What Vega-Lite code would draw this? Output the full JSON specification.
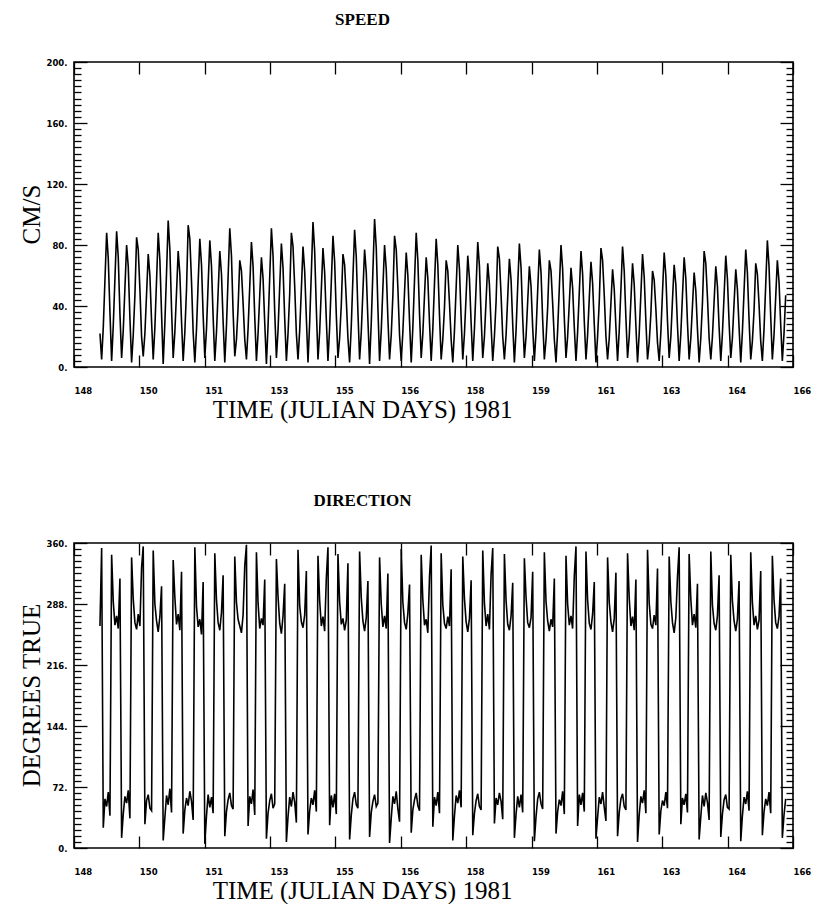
{
"$schema":"https://vega.github.io/schema/vega-lite/v6.json",
"background":"white",
"padding":{"left":18,"top":10,"right":0,"bottom":0},
"config":{"view":{"stroke":"black","strokeWidth":1.6},
 "axis":{"domain":false,"grid":false,"tickColor":"black","tickWidth":1.3,"labelFont":"DejaVu Sans","labelFontSize":8.5,"labelFontWeight":"bold","labelColor":"black","titleFont":"Liberation Serif","titleFontSize":25,"titleFontWeight":"normal","titleColor":"black"}},
"data":{"values":[
{"t":148.650,"s":22,"d":262},{"t":148.692,"s":5,"d":354},{"t":148.733,"s":26,"d":24},{"t":148.775,"s":57,"d":58},{"t":148.817,"s":88,"d":49},{"t":148.858,"s":71,"d":66},{"t":148.900,"s":36,"d":38},{"t":148.942,"s":4,"d":346},{"t":148.983,"s":27,"d":291},{"t":149.025,"s":58,"d":263},{"t":149.067,"s":89,"d":274},{"t":149.108,"s":72,"d":259},{"t":149.150,"s":35,"d":318},{"t":149.192,"s":6,"d":12},{"t":149.233,"s":24,"d":40},{"t":149.275,"s":52,"d":61},{"t":149.317,"s":80,"d":53},{"t":149.358,"s":66,"d":68},{"t":149.400,"s":32,"d":35},{"t":149.442,"s":3,"d":343},{"t":149.483,"s":21,"d":294},{"t":149.525,"s":47,"d":266},{"t":149.567,"s":85,"d":258},{"t":149.608,"s":77,"d":276},
{"t":149.650,"s":51,"d":262},{"t":149.692,"s":20,"d":331},{"t":149.733,"s":7,"d":356},{"t":149.775,"s":22,"d":28},{"t":149.817,"s":48,"d":56},{"t":149.858,"s":74,"d":63},{"t":149.900,"s":60,"d":47},{"t":149.942,"s":30,"d":44},{"t":149.983,"s":5,"d":351},{"t":150.025,"s":26,"d":288},{"t":150.067,"s":57,"d":268},{"t":150.108,"s":88,"d":255},{"t":150.150,"s":70,"d":273},{"t":150.192,"s":35,"d":309},{"t":150.233,"s":2,"d":9},{"t":150.275,"s":29,"d":36},{"t":150.317,"s":62,"d":62},{"t":150.358,"s":96,"d":51},{"t":150.400,"s":77,"d":70},{"t":150.442,"s":38,"d":42},{"t":150.483,"s":6,"d":340},{"t":150.525,"s":23,"d":296},{"t":150.567,"s":49,"d":264},{"t":150.608,"s":76,"d":276},
{"t":150.650,"s":61,"d":257},{"t":150.692,"s":30,"d":326},{"t":150.733,"s":4,"d":17},{"t":150.775,"s":23,"d":45},{"t":150.817,"s":51,"d":59},{"t":150.858,"s":93,"d":50},{"t":150.900,"s":84,"d":67},{"t":150.942,"s":56,"d":55},{"t":150.983,"s":23,"d":33},{"t":151.025,"s":3,"d":355},{"t":151.067,"s":25,"d":285},{"t":151.108,"s":55,"d":261},{"t":151.150,"s":84,"d":270},{"t":151.192,"s":67,"d":252},{"t":151.233,"s":34,"d":314},{"t":151.275,"s":6,"d":5},{"t":151.317,"s":25,"d":38},{"t":151.358,"s":54,"d":63},{"t":151.400,"s":83,"d":48},{"t":151.442,"s":66,"d":60},{"t":151.483,"s":33,"d":41},{"t":151.525,"s":4,"d":348},{"t":151.567,"s":23,"d":293},{"t":151.608,"s":49,"d":266},
{"t":151.650,"s":76,"d":257},{"t":151.692,"s":61,"d":278},{"t":151.733,"s":30,"d":322},{"t":151.775,"s":3,"d":14},{"t":151.817,"s":27,"d":43},{"t":151.858,"s":59,"d":57},{"t":151.900,"s":91,"d":65},{"t":151.942,"s":73,"d":50},{"t":151.983,"s":36,"d":46},{"t":152.025,"s":7,"d":344},{"t":152.067,"s":18,"d":290},{"t":152.108,"s":39,"d":270},{"t":152.150,"s":70,"d":262},{"t":152.192,"s":63,"d":254},{"t":152.233,"s":42,"d":275},{"t":152.275,"s":18,"d":333},{"t":152.317,"s":5,"d":358},{"t":152.358,"s":25,"d":26},{"t":152.400,"s":53,"d":61},{"t":152.442,"s":82,"d":52},{"t":152.483,"s":66,"d":69},{"t":152.525,"s":33,"d":39},{"t":152.567,"s":4,"d":349},{"t":152.608,"s":22,"d":289},
{"t":152.650,"s":47,"d":259},{"t":152.692,"s":72,"d":271},{"t":152.733,"s":58,"d":263},{"t":152.775,"s":29,"d":317},{"t":152.817,"s":2,"d":11},{"t":152.858,"s":27,"d":41},{"t":152.900,"s":59,"d":56},{"t":152.942,"s":91,"d":64},{"t":152.983,"s":73,"d":47},{"t":153.025,"s":36,"d":52},{"t":153.067,"s":6,"d":341},{"t":153.108,"s":24,"d":297},{"t":153.150,"s":53,"d":265},{"t":153.192,"s":81,"d":253},{"t":153.233,"s":65,"d":274},{"t":153.275,"s":32,"d":312},{"t":153.317,"s":4,"d":7},{"t":153.358,"s":22,"d":37},{"t":153.400,"s":48,"d":60},{"t":153.442,"s":88,"d":49},{"t":153.483,"s":79,"d":66},{"t":153.525,"s":53,"d":54},{"t":153.567,"s":22,"d":30},{"t":153.608,"s":5,"d":352},
{"t":153.650,"s":24,"d":286},{"t":153.692,"s":51,"d":267},{"t":153.733,"s":79,"d":260},{"t":153.775,"s":63,"d":275},{"t":153.817,"s":32,"d":327},{"t":153.858,"s":3,"d":16},{"t":153.900,"s":29,"d":44},{"t":153.942,"s":62,"d":59},{"t":153.983,"s":95,"d":51},{"t":154.025,"s":76,"d":68},{"t":154.067,"s":38,"d":43},{"t":154.108,"s":5,"d":345},{"t":154.150,"s":23,"d":292},{"t":154.192,"s":51,"d":262},{"t":154.233,"s":78,"d":273},{"t":154.275,"s":62,"d":256},{"t":154.317,"s":31,"d":319},{"t":154.358,"s":4,"d":355},{"t":154.400,"s":26,"d":27},{"t":154.442,"s":56,"d":62},{"t":154.483,"s":86,"d":48},{"t":154.525,"s":69,"d":64},{"t":154.567,"s":34,"d":40},{"t":154.608,"s":6,"d":347},
{"t":154.650,"s":19,"d":291},{"t":154.692,"s":41,"d":264},{"t":154.733,"s":74,"d":271},{"t":154.775,"s":67,"d":257},{"t":154.817,"s":44,"d":269},{"t":154.858,"s":19,"d":336},{"t":154.900,"s":3,"d":10},{"t":154.942,"s":27,"d":39},{"t":154.983,"s":59,"d":58},{"t":155.025,"s":90,"d":66},{"t":155.067,"s":72,"d":51},{"t":155.108,"s":36,"d":47},{"t":155.150,"s":5,"d":350},{"t":155.192,"s":23,"d":295},{"t":155.233,"s":50,"d":268},{"t":155.275,"s":77,"d":256},{"t":155.317,"s":62,"d":272},{"t":155.358,"s":31,"d":315},{"t":155.400,"s":2,"d":13},{"t":155.442,"s":29,"d":42},{"t":155.483,"s":63,"d":55},{"t":155.525,"s":97,"d":63},{"t":155.567,"s":78,"d":49},{"t":155.608,"s":39,"d":53},
{"t":155.650,"s":4,"d":343},{"t":155.692,"s":24,"d":288},{"t":155.733,"s":52,"d":261},{"t":155.775,"s":80,"d":274},{"t":155.817,"s":64,"d":259},{"t":155.858,"s":32,"d":324},{"t":155.900,"s":5,"d":6},{"t":155.942,"s":21,"d":35},{"t":155.983,"s":47,"d":61},{"t":156.025,"s":86,"d":52},{"t":156.067,"s":77,"d":67},{"t":156.108,"s":52,"d":46},{"t":156.150,"s":21,"d":31},{"t":156.192,"s":4,"d":353},{"t":156.233,"s":23,"d":290},{"t":156.275,"s":49,"d":266},{"t":156.317,"s":75,"d":258},{"t":156.358,"s":60,"d":277},{"t":156.400,"s":30,"d":311},{"t":156.442,"s":3,"d":18},{"t":156.483,"s":26,"d":45},{"t":156.525,"s":57,"d":57},{"t":156.567,"s":88,"d":65},{"t":156.608,"s":70,"d":50},
{"t":156.650,"s":35,"d":44},{"t":156.692,"s":6,"d":346},{"t":156.733,"s":22,"d":293},{"t":156.775,"s":47,"d":263},{"t":156.817,"s":72,"d":270},{"t":156.858,"s":58,"d":254},{"t":156.900,"s":29,"d":320},{"t":156.942,"s":4,"d":357},{"t":156.983,"s":25,"d":25},{"t":157.025,"s":55,"d":60},{"t":157.067,"s":84,"d":50},{"t":157.108,"s":67,"d":66},{"t":157.150,"s":34,"d":41},{"t":157.192,"s":5,"d":348},{"t":157.233,"s":18,"d":287},{"t":157.275,"s":39,"d":265},{"t":157.317,"s":70,"d":259},{"t":157.358,"s":63,"d":273},{"t":157.400,"s":42,"d":262},{"t":157.442,"s":18,"d":329},{"t":157.483,"s":3,"d":9},{"t":157.525,"s":24,"d":38},{"t":157.567,"s":52,"d":62},{"t":157.608,"s":80,"d":53},
{"t":157.650,"s":64,"d":68},{"t":157.692,"s":32,"d":48},{"t":157.733,"s":5,"d":344},{"t":157.775,"s":22,"d":294},{"t":157.817,"s":47,"d":267},{"t":157.858,"s":73,"d":255},{"t":157.900,"s":58,"d":271},{"t":157.942,"s":29,"d":316},{"t":157.983,"s":4,"d":15},{"t":158.025,"s":25,"d":41},{"t":158.067,"s":53,"d":56},{"t":158.108,"s":82,"d":64},{"t":158.150,"s":66,"d":49},{"t":158.192,"s":33,"d":45},{"t":158.233,"s":6,"d":351},{"t":158.275,"s":20,"d":289},{"t":158.317,"s":44,"d":262},{"t":158.358,"s":68,"d":276},{"t":158.400,"s":54,"d":258},{"t":158.442,"s":27,"d":323},{"t":158.483,"s":4,"d":354},{"t":158.525,"s":20,"d":29},{"t":158.567,"s":43,"d":59},{"t":158.608,"s":79,"d":51},
{"t":158.650,"s":71,"d":65},{"t":158.692,"s":47,"d":55},{"t":158.733,"s":20,"d":34},{"t":158.775,"s":5,"d":347},{"t":158.817,"s":21,"d":292},{"t":158.858,"s":46,"d":264},{"t":158.900,"s":71,"d":257},{"t":158.942,"s":57,"d":274},{"t":158.983,"s":28,"d":313},{"t":159.025,"s":3,"d":12},{"t":159.067,"s":24,"d":40},{"t":159.108,"s":53,"d":61},{"t":159.150,"s":81,"d":48},{"t":159.192,"s":65,"d":63},{"t":159.233,"s":32,"d":42},{"t":159.275,"s":6,"d":342},{"t":159.317,"s":20,"d":296},{"t":159.358,"s":43,"d":266},{"t":159.400,"s":66,"d":260},{"t":159.442,"s":53,"d":272},{"t":159.483,"s":26,"d":326},{"t":159.525,"s":4,"d":8},{"t":159.567,"s":23,"d":37},{"t":159.608,"s":50,"d":58},
{"t":159.650,"s":77,"d":66},{"t":159.692,"s":62,"d":52},{"t":159.733,"s":31,"d":46},{"t":159.775,"s":5,"d":349},{"t":159.817,"s":18,"d":291},{"t":159.858,"s":39,"d":268},{"t":159.900,"s":70,"d":256},{"t":159.942,"s":63,"d":270},{"t":159.983,"s":42,"d":261},{"t":160.025,"s":18,"d":318},{"t":160.067,"s":3,"d":17},{"t":160.108,"s":24,"d":43},{"t":160.150,"s":52,"d":57},{"t":160.192,"s":80,"d":50},{"t":160.233,"s":64,"d":67},{"t":160.275,"s":32,"d":40},{"t":160.317,"s":6,"d":345},{"t":160.358,"s":20,"d":288},{"t":160.400,"s":42,"d":263},{"t":160.442,"s":65,"d":274},{"t":160.483,"s":52,"d":259},{"t":160.525,"s":26,"d":321},{"t":160.567,"s":4,"d":356},{"t":160.608,"s":23,"d":26},
{"t":160.650,"s":49,"d":63},{"t":160.692,"s":76,"d":51},{"t":160.733,"s":61,"d":65},{"t":160.775,"s":30,"d":43},{"t":160.817,"s":5,"d":350},{"t":160.858,"s":21,"d":293},{"t":160.900,"s":45,"d":265},{"t":160.942,"s":69,"d":258},{"t":160.983,"s":55,"d":276},{"t":161.025,"s":28,"d":314},{"t":161.067,"s":3,"d":11},{"t":161.108,"s":20,"d":36},{"t":161.150,"s":43,"d":60},{"t":161.192,"s":78,"d":52},{"t":161.233,"s":70,"d":66},{"t":161.275,"s":47,"d":48},{"t":161.317,"s":20,"d":32},{"t":161.358,"s":5,"d":343},{"t":161.400,"s":19,"d":290},{"t":161.442,"s":42,"d":267},{"t":161.483,"s":64,"d":255},{"t":161.525,"s":51,"d":271},{"t":161.567,"s":26,"d":325},{"t":161.608,"s":4,"d":14},
{"t":161.650,"s":24,"d":42},{"t":161.692,"s":51,"d":58},{"t":161.733,"s":79,"d":64},{"t":161.775,"s":63,"d":49},{"t":161.817,"s":32,"d":45},{"t":161.858,"s":6,"d":348},{"t":161.900,"s":20,"d":295},{"t":161.942,"s":44,"d":262},{"t":161.983,"s":68,"d":273},{"t":162.025,"s":54,"d":257},{"t":162.067,"s":27,"d":317},{"t":162.108,"s":3,"d":7},{"t":162.150,"s":22,"d":39},{"t":162.192,"s":48,"d":61},{"t":162.233,"s":74,"d":53},{"t":162.275,"s":59,"d":68},{"t":162.317,"s":30,"d":41},{"t":162.358,"s":5,"d":352},{"t":162.400,"s":16,"d":289},{"t":162.442,"s":35,"d":264},{"t":162.483,"s":63,"d":259},{"t":162.525,"s":57,"d":275},{"t":162.567,"s":38,"d":263},{"t":162.608,"s":16,"d":330},
{"t":162.650,"s":4,"d":16},{"t":162.692,"s":23,"d":44},{"t":162.733,"s":49,"d":56},{"t":162.775,"s":75,"d":50},{"t":162.817,"s":60,"d":66},{"t":162.858,"s":30,"d":47},{"t":162.900,"s":6,"d":344},{"t":162.942,"s":20,"d":291},{"t":162.983,"s":44,"d":266},{"t":163.025,"s":67,"d":254},{"t":163.067,"s":54,"d":272},{"t":163.108,"s":27,"d":320},{"t":163.150,"s":4,"d":355},{"t":163.192,"s":22,"d":28},{"t":163.233,"s":47,"d":59},{"t":163.275,"s":72,"d":51},{"t":163.317,"s":58,"d":64},{"t":163.358,"s":29,"d":42},{"t":163.400,"s":5,"d":347},{"t":163.442,"s":19,"d":294},{"t":163.483,"s":40,"d":263},{"t":163.525,"s":62,"d":276},{"t":163.567,"s":50,"d":260},{"t":163.608,"s":25,"d":312},
{"t":163.650,"s":3,"d":10},{"t":163.692,"s":19,"d":37},{"t":163.733,"s":42,"d":62},{"t":163.775,"s":76,"d":49},{"t":163.817,"s":68,"d":65},{"t":163.858,"s":46,"d":54},{"t":163.900,"s":19,"d":33},{"t":163.942,"s":5,"d":350},{"t":163.983,"s":20,"d":287},{"t":164.025,"s":43,"d":265},{"t":164.067,"s":66,"d":257},{"t":164.108,"s":53,"d":274},{"t":164.150,"s":26,"d":322},{"t":164.192,"s":4,"d":13},{"t":164.233,"s":22,"d":40},{"t":164.275,"s":47,"d":57},{"t":164.317,"s":73,"d":63},{"t":164.358,"s":58,"d":48},{"t":164.400,"s":29,"d":46},{"t":164.442,"s":6,"d":346},{"t":164.483,"s":19,"d":292},{"t":164.525,"s":42,"d":268},{"t":164.567,"s":64,"d":256},{"t":164.608,"s":51,"d":270},
{"t":164.650,"s":26,"d":315},{"t":164.692,"s":3,"d":8},{"t":164.733,"s":23,"d":38},{"t":164.775,"s":50,"d":60},{"t":164.817,"s":77,"d":52},{"t":164.858,"s":62,"d":67},{"t":164.900,"s":31,"d":44},{"t":164.942,"s":5,"d":349},{"t":164.983,"s":17,"d":290},{"t":165.025,"s":37,"d":263},{"t":165.067,"s":68,"d":274},{"t":165.108,"s":61,"d":258},{"t":165.150,"s":41,"d":269},{"t":165.192,"s":17,"d":327},{"t":165.233,"s":4,"d":15},{"t":165.275,"s":25,"d":43},{"t":165.317,"s":54,"d":58},{"t":165.358,"s":83,"d":50},{"t":165.400,"s":66,"d":66},{"t":165.442,"s":33,"d":41},{"t":165.483,"s":5,"d":345},{"t":165.525,"s":21,"d":293},{"t":165.567,"s":46,"d":266},{"t":165.608,"s":70,"d":259},
{"t":165.650,"s":56,"d":273},{"t":165.692,"s":28,"d":318},{"t":165.733,"s":4,"d":12},{"t":165.775,"s":22,"d":39},{"t":165.817,"s":47,"d":58}
]},
"spacing":176,
"bounds":"flush",
"vconcat":[
{"width":719,"height":305,
 "title":{"text":"SPEED","anchor":"middle","dx":-71,"offset":29,"font":"Liberation Serif","fontSize":17,"fontWeight":"bold","color":"black"},
 "layer":[
  {"mark":{"type":"line","color":"black","strokeWidth":1.6},
   "encoding":{
    "x":{"field":"t","type":"quantitative","scale":{"domain":[148,166],"nice":false,"zero":false},
     "axis":{"orient":"bottom","values":[148,149.636,151.273,152.909,154.545,156.182,157.818,159.455,161.091,162.727,164.364,166],"format":".0f","tickSize":-12,"labelPadding":31,"labelAlign":"left","labelBaseline":"top","labelOverlap":false,"labelFlush":false,"title":"TIME (JULIAN DAYS) 1981","titleX":288,"titleY":42,"titleAlign":"center","titleBaseline":"middle"}},
    "y":{"field":"s","type":"quantitative","scale":{"domain":[0,200],"nice":false},
     "axis":{"orient":"left","values":[0,40,80,120,160,200],"labelExpr":"datum.label + '.'","tickSize":-13,"labelPadding":20,"labelOverlap":false,"labelFlush":false,"title":"CM/S","titleX":-43,"titleY":152,"titleAlign":"center","titleBaseline":"middle","titleAngle":270}}}},
  {"mark":{"type":"line","opacity":0},
   "encoding":{
    "x":{"field":"t","type":"quantitative","scale":{"domain":[148,166],"nice":false,"zero":false},
     "axis":{"orient":"top","values":[148,149.636,151.273,152.909,154.545,156.182,157.818,159.455,161.091,162.727,164.364,166],"tickSize":-12,"labels":false,"title":null}},
    "y":{"field":"s","type":"quantitative","scale":{"domain":[0,200],"nice":false},
     "axis":{"orient":"left","values":[4,8,12,16,20,24,28,32,36,44,48,52,56,60,64,68,72,76,84,88,92,96,100,104,108,112,116,124,128,132,136,140,144,148,152,156,164,168,172,176,180,184,188,192,196],"tickSize":-7,"labels":false,"title":null}}}},
  {"mark":{"type":"line","opacity":0},
   "encoding":{
    "x":{"field":"t","type":"quantitative","scale":{"domain":[148,166],"nice":false,"zero":false},"axis":null},
    "y":{"field":"s","type":"quantitative","scale":{"domain":[0,200],"nice":false},
     "axis":{"orient":"right","values":[0,40,80,120,160,200],"tickSize":-13,"labels":false,"title":null}}}},
  {"mark":{"type":"line","opacity":0},
   "encoding":{
    "x":{"field":"t","type":"quantitative","scale":{"domain":[148,166],"nice":false,"zero":false},"axis":null},
    "y":{"field":"s","type":"quantitative","scale":{"domain":[0,200],"nice":false},
     "axis":{"orient":"right","values":[4,8,12,16,20,24,28,32,36,44,48,52,56,60,64,68,72,76,84,88,92,96,100,104,108,112,116,124,128,132,136,140,144,148,152,156,164,168,172,176,180,184,188,192,196],"tickSize":-7,"labels":false,"title":null}}}}
 ],
 "resolve":{"axis":{"x":"independent","y":"independent"}}
},
{"width":719,"height":305,
 "title":{"text":"DIRECTION","anchor":"middle","dx":-71,"offset":29,"font":"Liberation Serif","fontSize":17,"fontWeight":"bold","color":"black"},
 "layer":[
  {"mark":{"type":"line","color":"black","strokeWidth":1.6},
   "encoding":{
    "x":{"field":"t","type":"quantitative","scale":{"domain":[148,166],"nice":false,"zero":false},
     "axis":{"orient":"bottom","values":[148,149.636,151.273,152.909,154.545,156.182,157.818,159.455,161.091,162.727,164.364,166],"format":".0f","tickSize":-12,"labelPadding":31,"labelAlign":"left","labelBaseline":"top","labelOverlap":false,"labelFlush":false,"title":"TIME (JULIAN DAYS) 1981","titleX":288,"titleY":42,"titleAlign":"center","titleBaseline":"middle"}},
    "y":{"field":"d","type":"quantitative","scale":{"domain":[0,360],"nice":false},
     "axis":{"orient":"left","values":[0,72,144,216,288,360],"labelExpr":"datum.label + '.'","tickSize":-13,"labelPadding":20,"labelOverlap":false,"labelFlush":false,"title":"DEGREES TRUE","titleX":-43,"titleY":152,"titleAlign":"center","titleBaseline":"middle","titleAngle":270}}}},
  {"mark":{"type":"line","opacity":0},
   "encoding":{
    "x":{"field":"t","type":"quantitative","scale":{"domain":[148,166],"nice":false,"zero":false},
     "axis":{"orient":"top","values":[148,149.636,151.273,152.909,154.545,156.182,157.818,159.455,161.091,162.727,164.364,166],"tickSize":-12,"labels":false,"title":null}},
    "y":{"field":"d","type":"quantitative","scale":{"domain":[0,360],"nice":false},
     "axis":{"orient":"left","values":[7.2,14.4,21.6,28.8,36,43.2,50.4,57.6,64.8,79.2,86.4,93.6,100.8,108,115.2,122.4,129.6,136.8,151.2,158.4,165.6,172.8,180,187.2,194.4,201.6,208.8,223.2,230.4,237.6,244.8,252,259.2,266.4,273.6,280.8,295.2,302.4,309.6,316.8,324,331.2,338.4,345.6,352.8],"tickSize":-7,"labels":false,"title":null}}}},
  {"mark":{"type":"line","opacity":0},
   "encoding":{
    "x":{"field":"t","type":"quantitative","scale":{"domain":[148,166],"nice":false,"zero":false},"axis":null},
    "y":{"field":"d","type":"quantitative","scale":{"domain":[0,360],"nice":false},
     "axis":{"orient":"right","values":[0,72,144,216,288,360],"tickSize":-13,"labels":false,"title":null}}}},
  {"mark":{"type":"line","opacity":0},
   "encoding":{
    "x":{"field":"t","type":"quantitative","scale":{"domain":[148,166],"nice":false,"zero":false},"axis":null},
    "y":{"field":"d","type":"quantitative","scale":{"domain":[0,360],"nice":false},
     "axis":{"orient":"right","values":[7.2,14.4,21.6,28.8,36,43.2,50.4,57.6,64.8,79.2,86.4,93.6,100.8,108,115.2,122.4,129.6,136.8,151.2,158.4,165.6,172.8,180,187.2,194.4,201.6,208.8,223.2,230.4,237.6,244.8,252,259.2,266.4,273.6,280.8,295.2,302.4,309.6,316.8,324,331.2,338.4,345.6,352.8],"tickSize":-7,"labels":false,"title":null}}}}
 ],
 "resolve":{"axis":{"x":"independent","y":"independent"}}
}
]
}
